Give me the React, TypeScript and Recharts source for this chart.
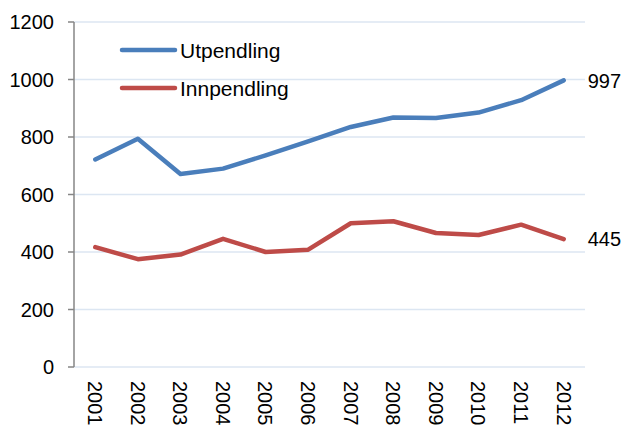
import { LineChart, Line, XAxis, YAxis, CartesianGrid, Legend, LabelList } from 'recharts'

const years = ['2001', '2002', '2003', '2004', '2005', '2006', '2007', '2008', '2009', '2010', '2011', '2012']
const utpendling = [722, 794, 671, 690, 736, 785, 835, 868, 866, 885, 928, 997]
const innpendling = [417, 375, 391, 446, 400, 408, 500, 507, 466, 459, 495, 445]
const yTicks = [0, 200, 400, 600, 800, 1000, 1200]
const boundaryTicks = [0, 1, 2, 3, 4, 5, 6, 7, 8, 9, 10, 11, 12]
const seriesOrder = ['Utpendling', 'Innpendling']

const FONT = '"Liberation Sans", Arial, sans-serif'
const BLUE = '#4a7ebb'
const RED = '#be4b48'
const AXIS = '#868686'

const chartData = years.map((year, i) => ({
  year,
  utpendling: utpendling[i],
  innpendling: innpendling[i],
}))

function YearTick({ x, y, payload }: any) {
  return (
    <g transform={`translate(${x},${y})`}>
      <text
        transform="rotate(90)"
        x={6}
        y={0}
        dy="0.36em"
        textAnchor="start"
        fontSize={20}
        fontFamily={FONT}
        fill="#000"
      >
        {payload.value}
      </text>
    </g>
  )
}

function makeEndLabel(last: number) {
  return function EndLabel({ x, y, index, value }: any) {
    if (index !== last) return null
    return (
      <text x={x + 24} y={y} dy="0.36em" fontSize={20} fontFamily={FONT} fill="#000">
        {value}
      </text>
    )
  }
}

function LegendBox({ payload }: any) {
  if (!payload) return null
  const items = [...payload].sort(
    (a: any, b: any) => seriesOrder.indexOf(a.value) - seriesOrder.indexOf(b.value)
  )
  return (
    <svg width={200} height={80}>
      {items.map((entry: any, i: number) => (
        <g key={entry.value} transform={`translate(0, ${i * 38})`}>
          <line x1={3} y1={12} x2={56} y2={12} stroke={entry.color} strokeWidth={4.5} strokeLinecap="round" />
          <text x={61} y={12} dy="0.36em" fontSize={21} fontFamily={FONT} fill="#000">
            {entry.value}
          </text>
        </g>
      ))}
    </svg>
  )
}

export default function App() {
  return (
    <div style={{ position: 'absolute', left: 0, top: 0, width: 624, height: 425, background: '#fff' }}>
      <LineChart width={624} height={425} data={chartData} margin={{ top: 22, right: 39, left: 0, bottom: 0 }}>
        <CartesianGrid vertical={false} stroke="#dce6f2" strokeWidth={1.5} yAxisId="y" xAxisId="cat" />
        <XAxis
          xAxisId="bound"
          type="number"
          domain={[0, 12]}
          ticks={boundaryTicks}
          tick={false}
          tickSize={6}
          height={0}
          axisLine={{ stroke: AXIS, strokeWidth: 1.5 }}
          tickLine={{ stroke: AXIS, strokeWidth: 1.5 }}
          allowDataOverflow
        />
        <XAxis
          xAxisId="cat"
          dataKey="year"
          scale="band"
          height={58}
          axisLine={false}
          tickLine={false}
          tick={<YearTick />}
          interval={0}
        />
        <YAxis
          yAxisId="y"
          width={74}
          domain={[0, 1200]}
          ticks={yTicks}
          tickSize={6}
          tickMargin={14}
          axisLine={{ stroke: AXIS, strokeWidth: 1.5 }}
          tickLine={{ stroke: AXIS, strokeWidth: 1.5 }}
          tick={{ fontSize: 20, fontFamily: FONT, fill: '#000' }}
        />
        <Legend
          layout="vertical"
          verticalAlign="middle"
          align="center"
          content={<LegendBox />}
          wrapperStyle={{ position: 'absolute', left: 119, top: 38, width: 200 }}
        />
        <Line
          xAxisId="cat"
          yAxisId="y"
          dataKey="utpendling"
          name="Utpendling"
          stroke={BLUE}
          strokeWidth={4.5}
          strokeLinecap="round"
          strokeLinejoin="round"
          dot={false}
          isAnimationActive={false}
        >
          <LabelList dataKey="utpendling" content={makeEndLabel(years.length - 1)} />
        </Line>
        <Line
          xAxisId="cat"
          yAxisId="y"
          dataKey="innpendling"
          name="Innpendling"
          stroke={RED}
          strokeWidth={4.5}
          strokeLinecap="round"
          strokeLinejoin="round"
          dot={false}
          isAnimationActive={false}
        >
          <LabelList dataKey="innpendling" content={makeEndLabel(years.length - 1)} />
        </Line>
      </LineChart>
    </div>
  )
}
